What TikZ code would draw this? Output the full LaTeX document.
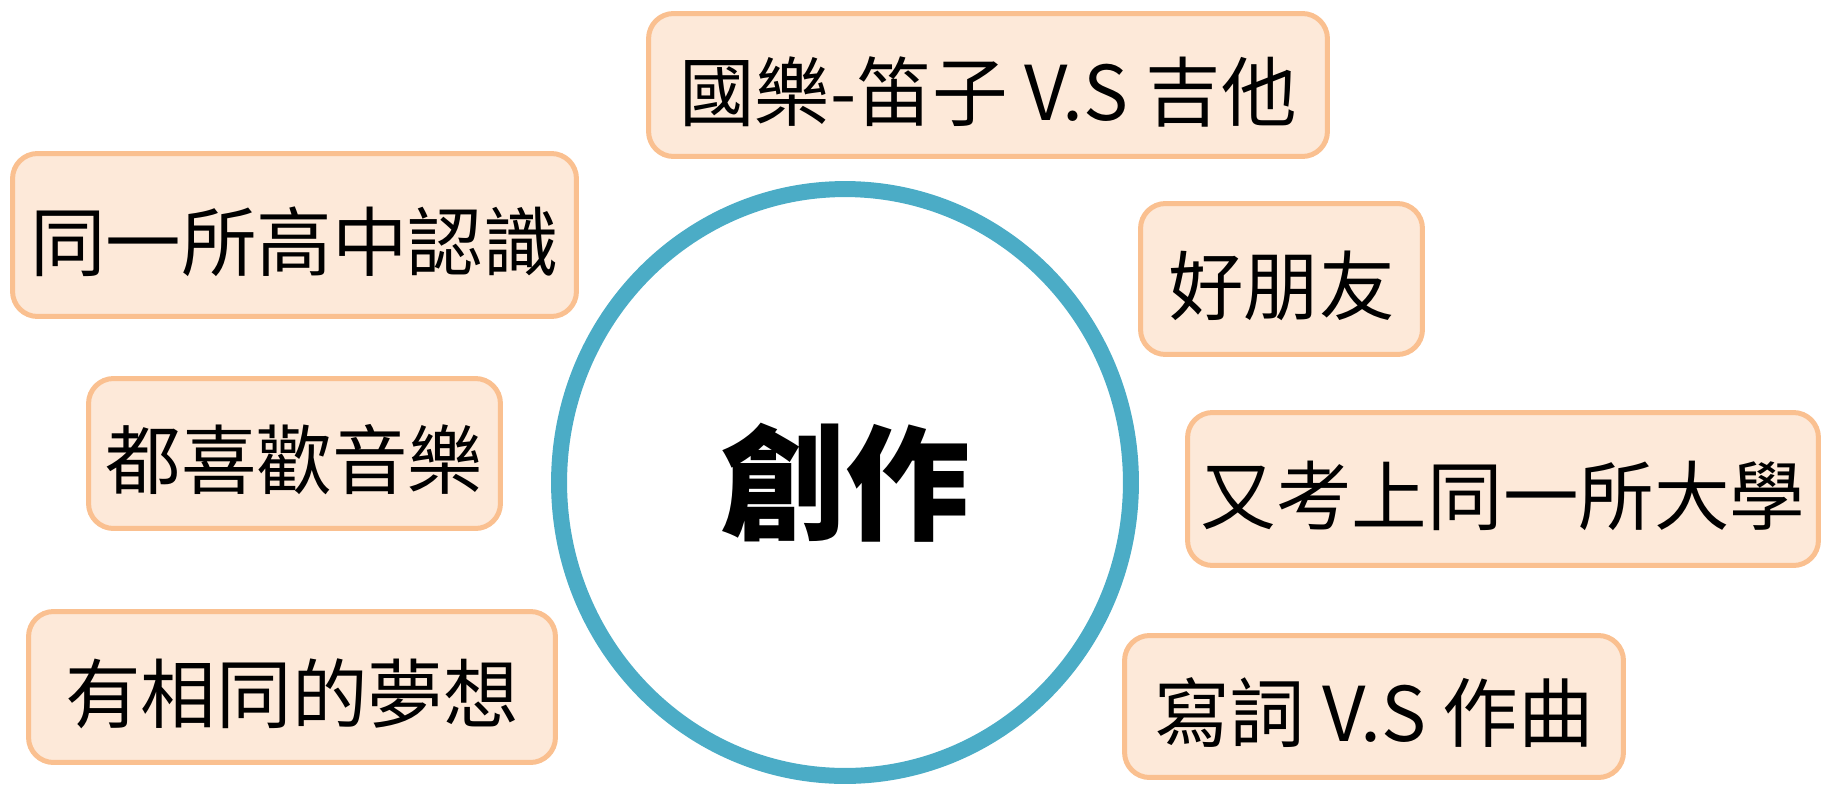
\documentclass[tikz,border=0pt]{standalone}
\usepackage{fontspec}
\setmainfont{Noto Sans CJK TC}
\usetikzlibrary{shapes.geometric}
\definecolor{peach}{HTML}{FDE9D9}
\definecolor{apricot}{HTML}{FAC090}
\definecolor{aqua}{HTML}{4BACC6}

\begin{document}
\begin{tikzpicture}[x=0.02cm,y=-0.02cm,
    item/.style={draw=apricot,fill=peach,line width=0.1cm,rounded corners=0.5cm,
      inner sep=0pt,text height=42pt,text depth=2pt,
      font=\fontsize{43pt}{48pt}\selectfont},
    hub/.style={draw=aqua,line width=0.32cm,ellipse,inner sep=0pt,
      font=\fontsize{71pt}{80pt}\selectfont\bfseries}]
  \useasboundingbox (0,0) rectangle (1822,785);
  \node[hub,minimum width=11.44cm,minimum height=11.74cm] (core) at (845,482.5) {創作};
  \node[item,minimum width=13.58cm,minimum height=2.86cm] (instr) at (988,85) {國樂-笛子 V.S 吉他};
  \node[item,minimum width=11.28cm,minimum height=3.26cm] (school) at (294.5,235) {同一所高中認識};
  \node[item,minimum width=5.64cm,minimum height=3.02cm] (friend) at (1281.5,279) {好朋友};
  \node[item,minimum width=8.24cm,minimum height=3.0cm] (music) at (294.5,453.5) {都喜歡音樂};
  \node[item,minimum width=12.62cm,minimum height=3.06cm] (univ) at (1503,489) {又考上同一所大學};
  \node[item,minimum width=10.54cm,minimum height=3.02cm] (dream) at (292,687) {有相同的夢想};
  \node[item,minimum width=9.98cm,minimum height=2.84cm] (songs) at (1374,706.5) {寫詞 V.S 作曲};
\end{tikzpicture}
\end{document}
